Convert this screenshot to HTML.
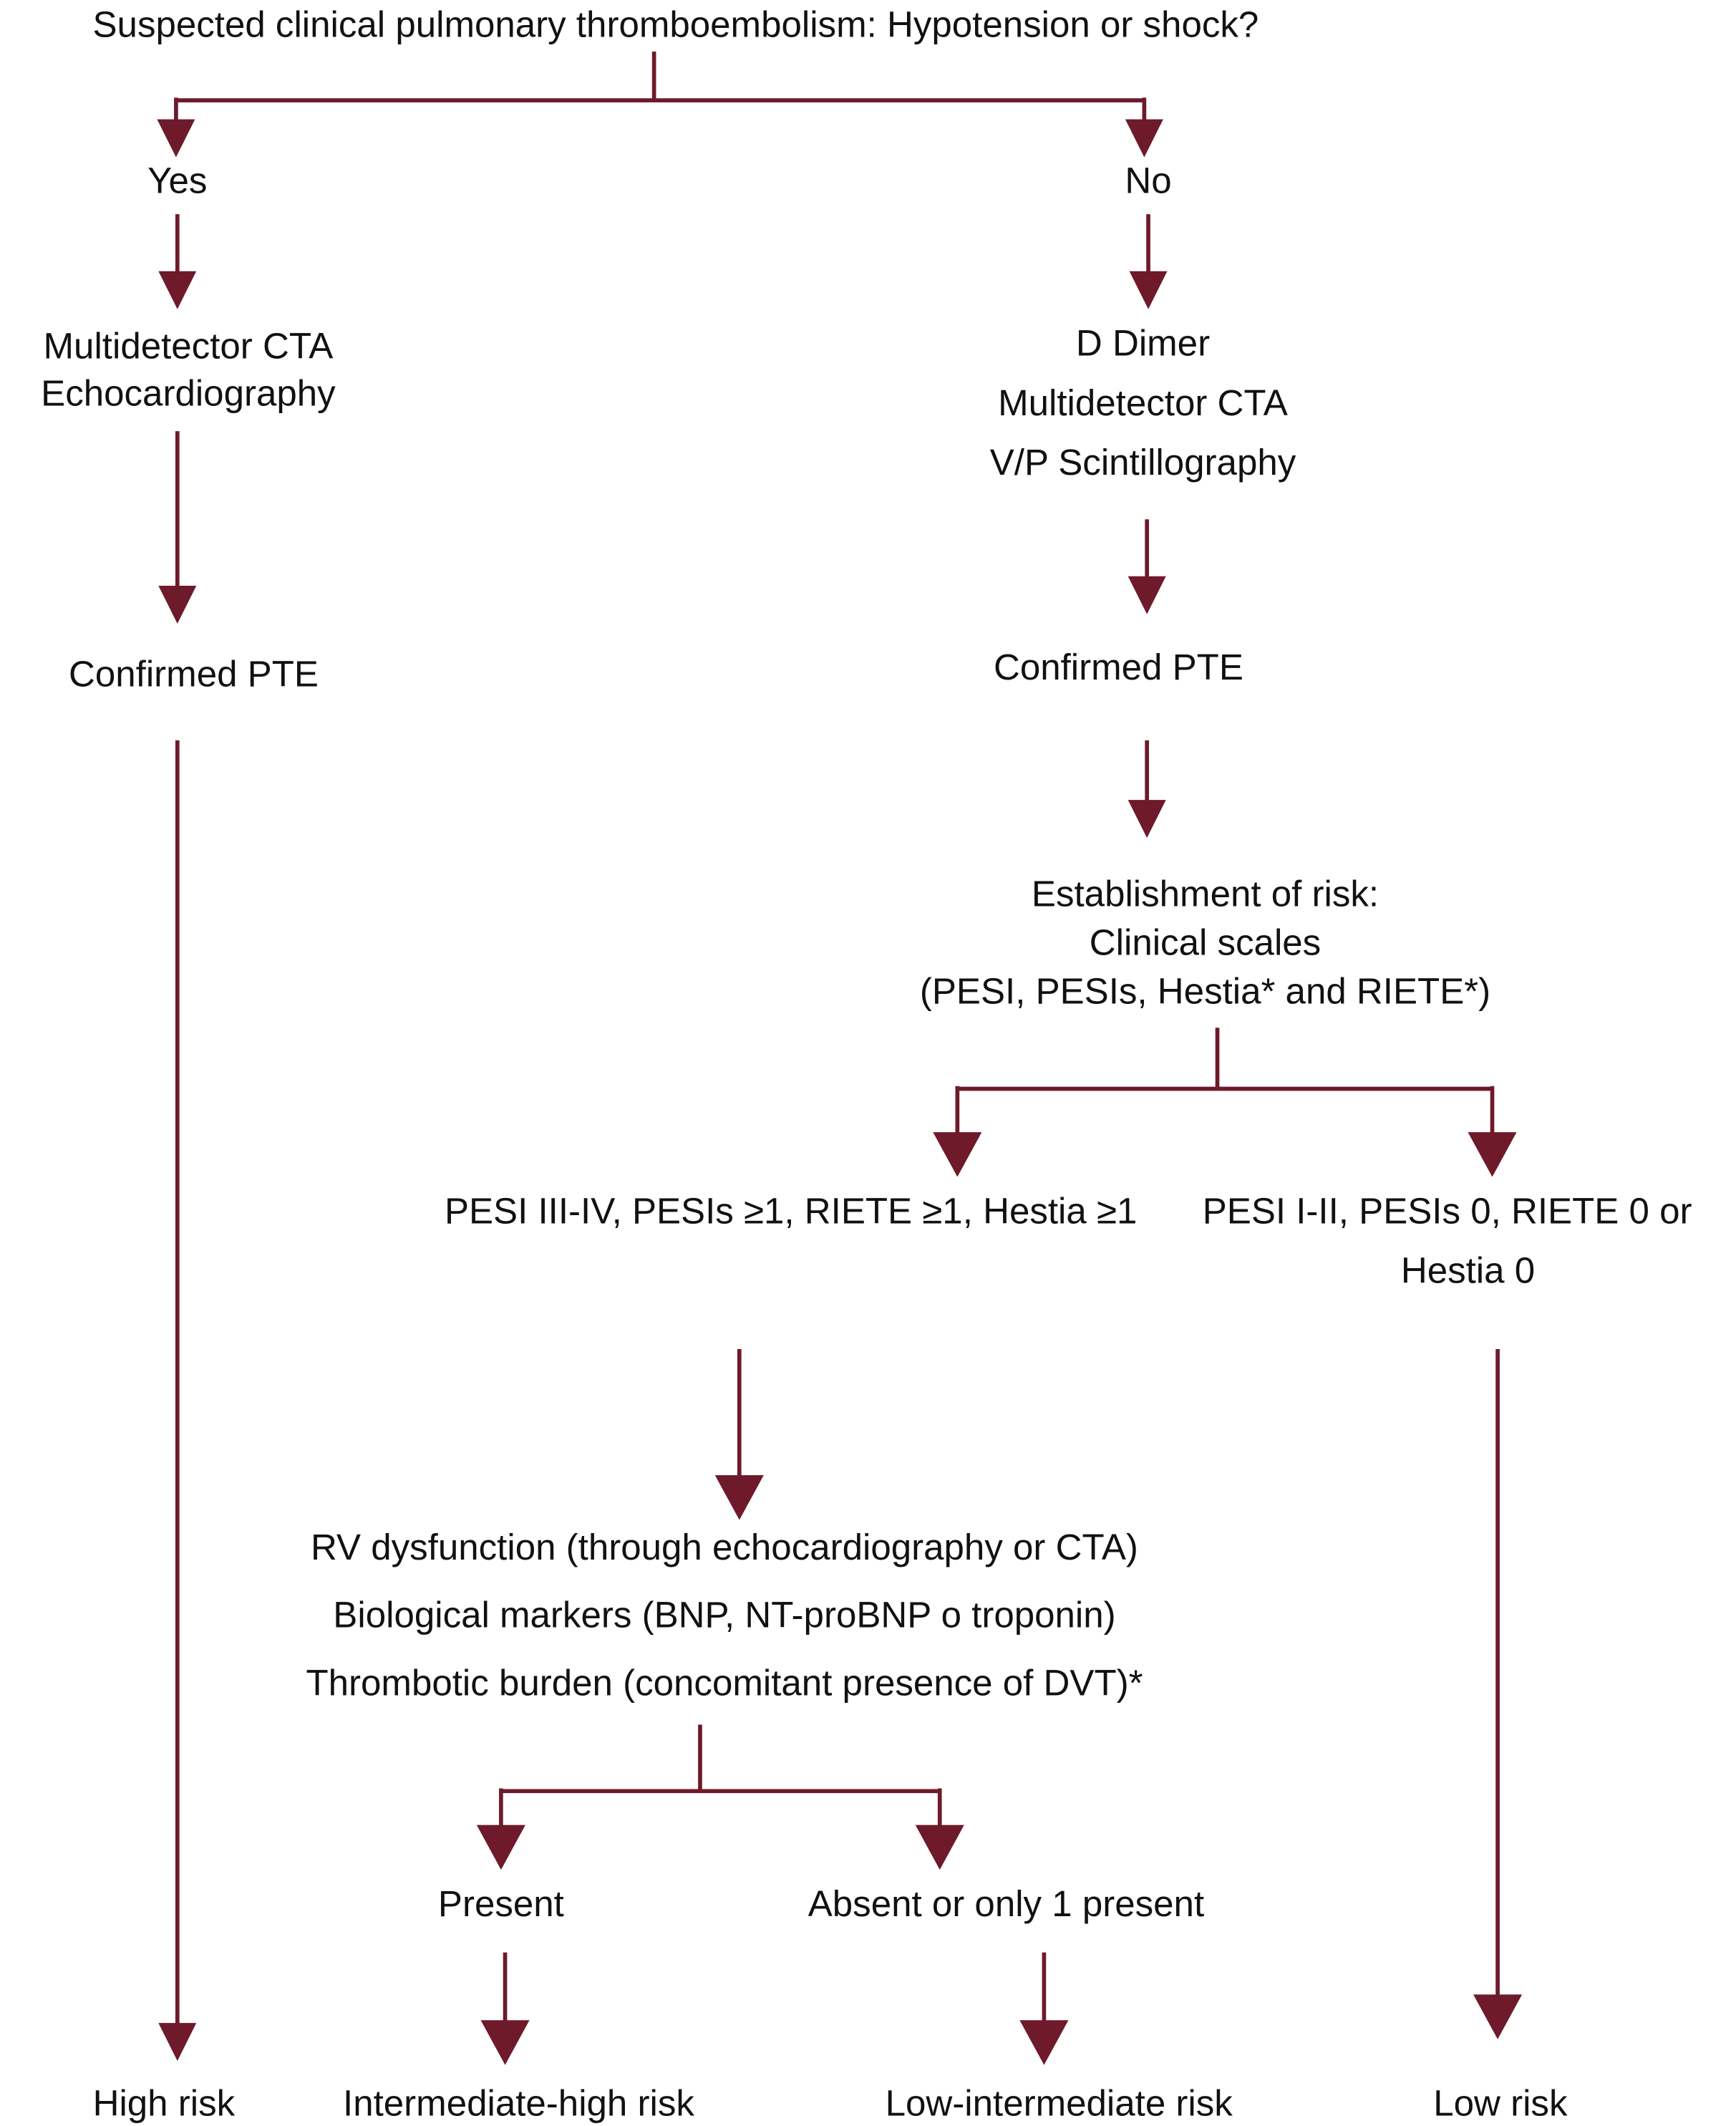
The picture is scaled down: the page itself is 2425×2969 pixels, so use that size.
<!DOCTYPE html>
<html><head><meta charset="utf-8"><style>
html,body{margin:0;padding:0;background:#fff;}
svg{display:block;}
text{font-family:"Liberation Sans",Arial,sans-serif;font-size:27px;fill:#111;text-anchor:middle;dominant-baseline:central;}
</style></head><body>
<svg width="2425" height="2969" viewBox="0 0 1282 1568" preserveAspectRatio="none" xmlns="http://www.w3.org/2000/svg">
<defs>
<g id="ah"><polygon points="-14,0 14,0 0,28" fill="#6e1a2a"/></g>
<g id="ahb"><polygon points="-18,0 18,0 0,33" fill="#6e1a2a"/></g>
</defs>
<g stroke="#6e1a2a" stroke-width="3" fill="none">
<path d="M483 38V74M130 74H845M130 72V90M845 72V90"/>
<path d="M131 158V202M848 158V202"/>
<path d="M131 318V434"/>
<path d="M131 546V1494"/>
<path d="M847 383V427M847 546V592"/>
<path d="M899 758V803M707 803H1102M707 801V837M1102 801V837"/>
<path d="M546 995V1090"/>
<path d="M1106 995V1474"/>
<path d="M517 1272V1321M370 1321H694M370 1319V1349M694 1319V1349"/>
<path d="M373 1440V1494M771 1440V1494"/>
</g>
<use href="#ah" x="130" y="88"/><use href="#ah" x="845" y="88"/>
<use href="#ah" x="131" y="200"/><use href="#ah" x="848" y="200"/>
<use href="#ah" x="131" y="432"/>
<use href="#ah" x="131" y="1492" transform=""/>
<use href="#ah" x="847" y="425"/><use href="#ah" x="847" y="590"/>
<use href="#ahb" x="707" y="835"/><use href="#ahb" x="1102" y="835"/>
<use href="#ahb" x="546" y="1088"/>
<use href="#ahb" x="1106" y="1471"/>
<use href="#ahb" x="370" y="1346"/><use href="#ahb" x="694" y="1346"/>
<use href="#ahb" x="373" y="1490"/><use href="#ahb" x="771" y="1490"/>

<text x="499" y="18">Suspected clinical pulmonary thromboembolism: Hypotension or shock?</text>
<text x="131" y="133">Yes</text>
<text x="848" y="133">No</text>
<text x="139" y="255">Multidetector CTA</text>
<text x="139" y="290">Echocardiography</text>
<text x="143" y="497">Confirmed PTE</text>
<text x="844" y="253">D Dimer</text>
<text x="844" y="297">Multidetector CTA</text>
<text x="844" y="341">V/P Scintillography</text>
<text x="826" y="492">Confirmed PTE</text>
<text x="890" y="659">Establishment of risk:</text>
<text x="890" y="695">Clinical scales</text>
<text x="890" y="731">(PESI, PESIs, Hestia* and RIETE*)</text>
<text x="584" y="893">PESI III-IV, PESIs ≥1, RIETE ≥1, Hestia ≥1</text>
<text x="888" y="893" style="text-anchor:start">PESI I-II, PESIs 0, RIETE 0 or</text>
<text x="1084" y="937">Hestia 0</text>
<text x="535" y="1141">RV dysfunction (through echocardiography or CTA)</text>
<text x="535" y="1191">Biological markers (BNP, NT-proBNP o troponin)</text>
<text x="535" y="1241">Thrombotic burden (concomitant presence of DVT)*</text>
<text x="370" y="1404">Present</text>
<text x="743" y="1404">Absent or only 1 present</text>
<text x="121" y="1551">High risk</text>
<text x="383" y="1551">Intermediate-high risk</text>
<text x="782" y="1551">Low-intermediate risk</text>
<text x="1108" y="1551">Low risk</text>
</svg>
</body></html>
